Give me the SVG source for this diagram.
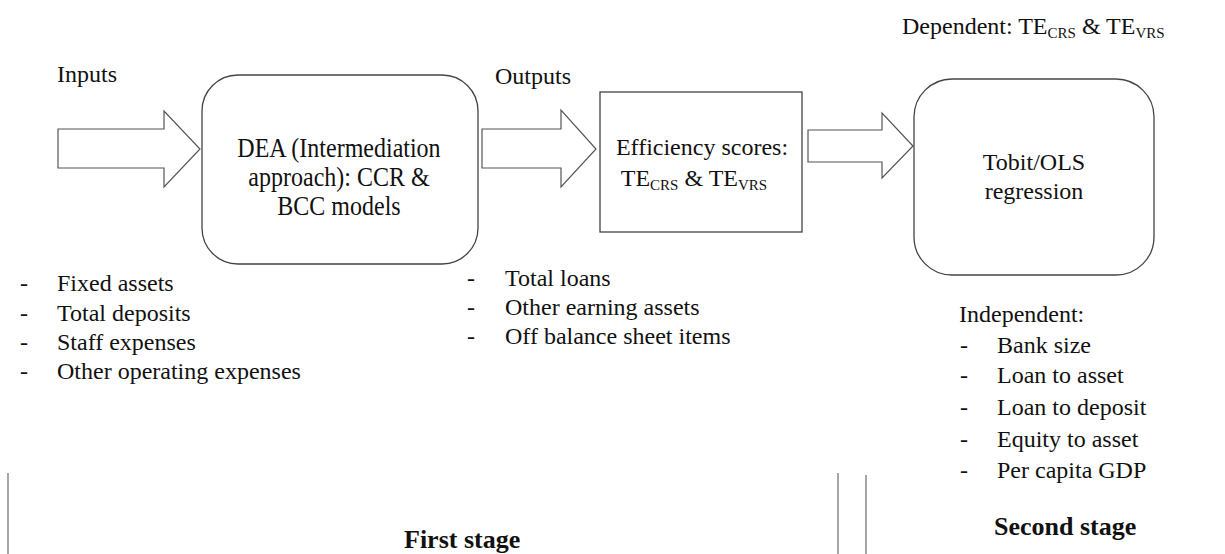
<svg xmlns="http://www.w3.org/2000/svg" width="1225" height="554" viewBox="0 0 1225 554">
<style>
  text { font-family: "Liberation Serif", "Times New Roman", serif; font-size: 24px; fill: #111; }
  .c { text-anchor: middle; }
  .b { font-weight: bold; font-size: 26px; }
  .sub { font-size: 15px; }
  .box { fill: #fff; stroke: #444; stroke-width: 1.3; }
  .arr { fill: #fff; stroke: #555; stroke-width: 1.2; stroke-linejoin: miter; }
  .vl { stroke: #777; stroke-width: 1.3; }
</style>
<rect width="1225" height="554" fill="#fff"/>

<g id="connectors">
  <polygon class="arr" points="58,129 164,129 164,111 200,149 164,187 164,168 58,168"/>
  <polygon class="arr" points="482,129 561,129 561,110 596,149 561,187 561,168 482,168"/>
  <polygon class="arr" points="808,130 882,130 882,113 913,146 882,178 882,162 808,162"/>
</g>

<g id="inputs-label"><text x="57" y="82">Inputs</text></g>
<g id="outputs-label"><text x="495" y="84">Outputs</text></g>

<g id="dea">
  <rect class="box" x="202" y="75" width="276" height="189" rx="36"/>
  <text class="c" transform="translate(339,157) scale(1,1.15)">DEA (Intermediation</text>
  <text class="c" transform="translate(339,186) scale(1,1.15)">approach): CCR &amp;</text>
  <text class="c" transform="translate(339,215) scale(1,1.15)">BCC models</text>
</g>

<g id="efficiency">
  <rect class="box" x="600" y="92" width="202" height="140"/>
  <text class="c" x="702" y="155">Efficiency scores:</text>
  <text class="c" x="694" y="186">TE<tspan class="sub" dy="4">CRS</tspan><tspan dy="-4"> &amp; TE</tspan><tspan class="sub" dy="4">VRS</tspan></text>
</g>

<g id="tobit">
  <rect class="box" x="914" y="79" width="240" height="196" rx="38"/>
  <text class="c" x="1034" y="170">Tobit/OLS</text>
  <text class="c" x="1034" y="199">regression</text>
</g>

<g id="dependent">
  <text x="902" y="34">Dependent: TE<tspan class="sub" dy="4">CRS</tspan><tspan dy="-4"> &amp; TE</tspan><tspan class="sub" dy="4">VRS</tspan></text>
</g>

<g id="input-list">
  <text x="20" y="291">-</text><text x="57" y="291">Fixed assets</text>
  <text x="20" y="321">-</text><text x="57" y="321">Total deposits</text>
  <text x="20" y="350">-</text><text x="57" y="350">Staff expenses</text>
  <text x="20" y="379">-</text><text x="57" y="379">Other operating expenses</text>
</g>

<g id="output-list">
  <text x="467" y="286">-</text><text x="505" y="286">Total loans</text>
  <text x="467" y="315">-</text><text x="505" y="315">Other earning assets</text>
  <text x="467" y="344">-</text><text x="505" y="344">Off balance sheet items</text>
</g>

<g id="independent-list">
  <text x="959" y="322">Independent:</text>
  <text x="960" y="353">-</text><text x="997" y="353">Bank size</text>
  <text x="960" y="383">-</text><text x="997" y="383">Loan to asset</text>
  <text x="960" y="415">-</text><text x="997" y="415">Loan to deposit</text>
  <text x="960" y="447">-</text><text x="997" y="447">Equity to asset</text>
  <text x="960" y="478">-</text><text x="997" y="478">Per capita GDP</text>
</g>

<g id="stages">
  <line class="vl" x1="8" y1="473" x2="8" y2="554"/>
  <line class="vl" x1="838" y1="473" x2="838" y2="554"/>
  <line class="vl" x1="866" y1="475" x2="866" y2="554"/>
  <text class="b" x="404" y="548">First stage</text>
  <text class="b" x="994" y="535">Second stage</text>
</g>
</svg>
